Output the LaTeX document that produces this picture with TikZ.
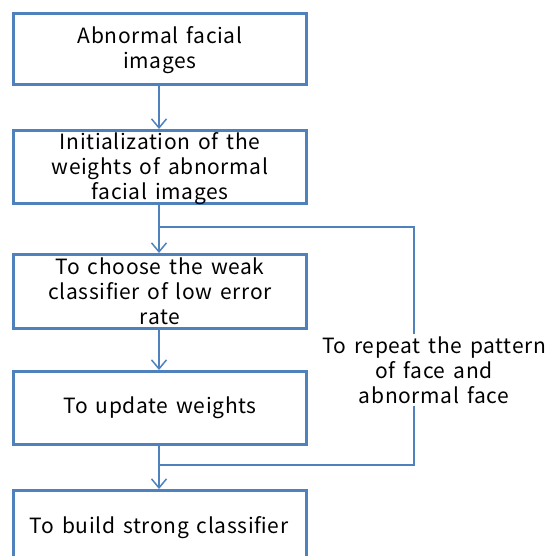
\documentclass[tikz,border=0pt]{standalone}
\usepackage{fontspec}
\setmainfont{Noto Sans CJK KR}[LetterSpace=3,WordSpace=1.5]
\usetikzlibrary{arrows.meta,calc}
\definecolor{boxblue}{HTML}{4F81BD}
\tikzset{
  box/.style={draw=boxblue,line width=3pt,minimum width=293pt,inner sep=0pt,anchor=north west},
  txt/.style={align=center,font=\fontsize{21}{25}\selectfont,inner sep=0pt},
  conn/.style={draw=boxblue,line width=1.5pt},
  arr/.style={conn,-{Straight Barb[length=9pt,width=15pt,line width=1.5pt]}}
}
\begin{document}
\begin{tikzpicture}[x=1pt,y=-1pt]
\useasboundingbox (0,0) rectangle (546,556);
\clip (0,0) rectangle (546,556);
\node[box,minimum height=71pt] (b1) at (12,12) {};
\node[box,minimum height=73pt] (b2) at (12,129) {};
\node[box,minimum height=74pt] (b3) at (12,253) {};
\node[box,minimum height=73pt] (b4) at (12,370) {};
\node[box,minimum height=80pt] (b5) at (12,489) {};
\node[txt] (t1) at ($(b1.center)+(0,1)$) {Abnormal facial\\images};
\node[txt] (t2) at ($(b2.center)+(0,2)$) {Initialization of the\\weights of abnormal\\facial images};
\node[txt] (t3) at ($(b3.center)+(0,0)$) {To choose the weak\\classifier of low error\\rate};
\node[txt] (t4) at (b4.center) {To update weights};
\node[txt] (t5) at (159,528) {To build strong classifier};
\node[txt,fill=white,inner sep=2pt] (rep) at (434,370) {To repeat the pattern\\of face and\\abnormal face};
\coordinate (j1) at (159,227);
\coordinate (j1r) at (414,227);
\coordinate (j2) at (159,465);
\coordinate (j2r) at (414,465);
\draw[arr] (b1.south -| j1) -- (b2.north -| j1);
\draw[arr] (b2.south -| j1) -- (b3.north -| j1);
\draw[arr] (b3.south -| j1) -- (b4.north -| j1);
\draw[arr] (b4.south -| j1) -- (b5.north -| j1);
\draw[conn] (j1) -- (j1r) -- (j1r |- rep.north);
\draw[conn] (j1r |- rep.south) -- (j2r) -- (j2);
\end{tikzpicture}
\end{document}
